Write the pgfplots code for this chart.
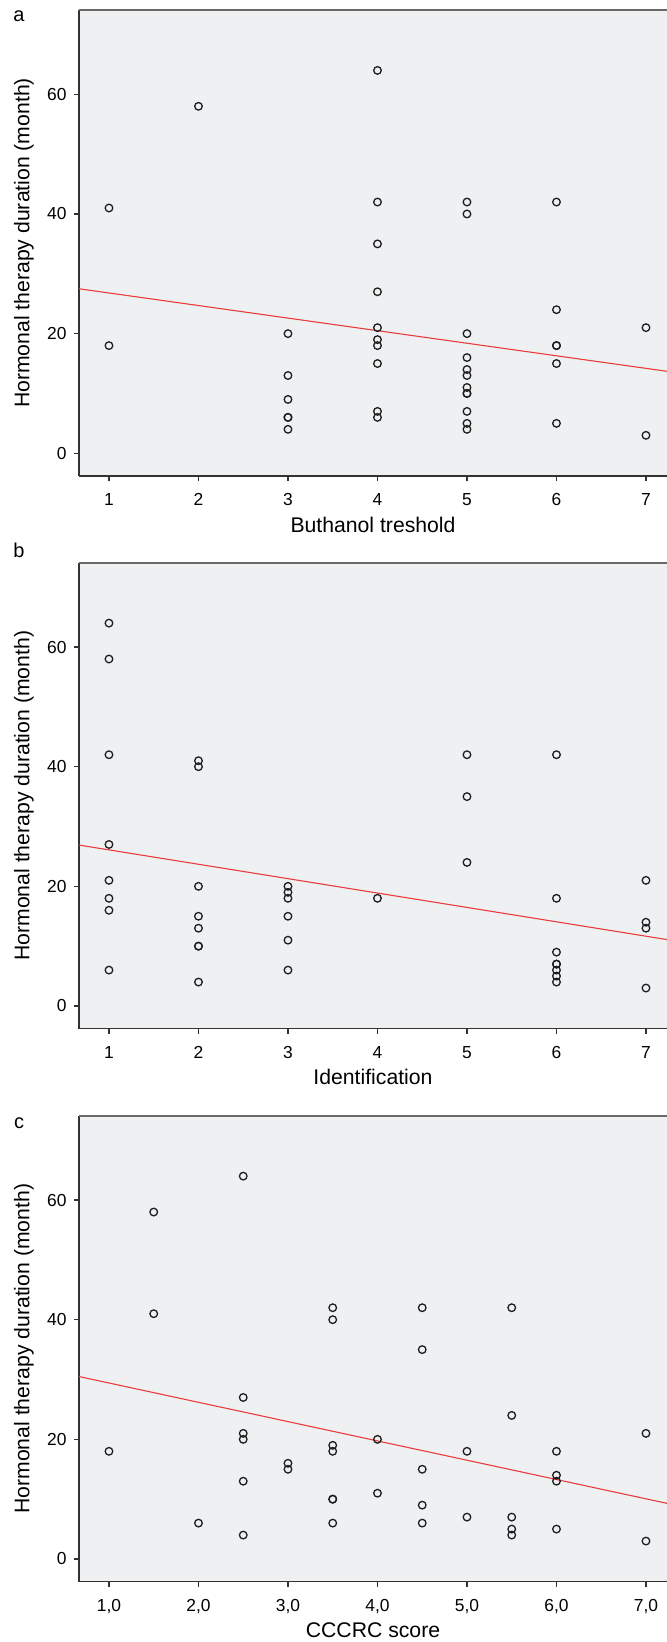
\documentclass[border=0pt]{standalone}
\usepackage{fontspec}
\setmainfont{Liberation Sans}
\usepackage{pgfplots}
\pgfplotsset{compat=1.18}
\definecolor{bgc}{RGB}{239,240,242}
\definecolor{frm}{RGB}{50,50,50}
\definecolor{topfrm}{RGB}{105,105,105}
\definecolor{mk}{RGB}{30,30,30}
\definecolor{reg}{RGB}{235,60,60}

\pgfplotsset{
  panel/.style={
    scale only axis, width=294pt, height=233pt, anchor=north west,
    xmin=0.665, xmax=7.235, ymin=-3.8, ymax=74.1,
    axis x line*=bottom, axis y line*=left,
    axis line style={-, frm, line width=0.7pt},
    axis background/.style={fill=bgc},
    tick align=outside, major tick length=2.5pt,
    tick style={frm, line width=0.6pt},
    xtick={1,2,3,4,5,6,7}, ytick={0,20,40,60}, yticklabels={0,20,40,60},
    tick label style={font=\fontsize{8.7}{10}\selectfont},
    xticklabel style={anchor=north, inner sep=0pt, yshift=-6pt},
    yticklabel style={anchor=east, inner sep=0pt, xshift=-3.5pt},
    every axis x label/.style={at={(axis description cs:0.5,0)}, yshift=-24.25pt, anchor=center, font=\fontsize{10.6}{12}\selectfont},
    every axis y label/.style={at={(axis description cs:0,0.5)}, xshift=-27.5pt, rotate=90, anchor=center, font=\fontsize{10.6}{12}\selectfont},
    ylabel={Hormonal therapy duration (month)},
  },
  pts/.style={only marks, mark=o, mark size=1.9pt, mark options={draw=mk, line width=0.65pt}},
  regl/.style={reg, line width=0.55pt, no marks},
}

\pgfplotstableread{
x y
1 41
1 18
2 58
3 20
3 13
3 9
3 6
3 6
3 4
4 64
4 42
4 35
4 27
4 21
4 19
4 18
4 15
4 7
4 6
5 42
5 40
5 20
5 16
5 14
5 13
5 11
5 10
5 10
5 7
5 5
5 4
6 42
6 24
6 18
6 18
6 15
6 5
7 21
7 3
}\dataA

\pgfplotstableread{
x y
1 64
1 58
1 42
1 27
1 21
1 18
1 16
1 6
2 41
2 40
2 20
2 15
2 13
2 10
2 10
2 4
3 20
3 19
3 18
3 15
3 11
3 6
4 18
5 42
5 35
5 24
6 42
6 18
6 9
6 7
6 7
6 6
6 5
6 4
7 21
7 14
7 13
7 3
}\dataB

\pgfplotstableread{
x y
1.0 18
1.5 58
1.5 41
2.0 6
2.5 64
2.5 27
2.5 21
2.5 20
2.5 13
2.5 4
3.0 16
3.0 15
3.5 42
3.5 40
3.5 19
3.5 18
3.5 10
3.5 10
3.5 6
4.0 20
4.0 11
4.5 42
4.5 35
4.5 15
4.5 9
4.5 6
5.0 18
5.0 7
5.5 42
5.5 24
5.5 7
5.5 5
5.5 4
6.0 18
6.0 14
6.0 13
6.0 5
7.0 21
7.0 3
}\dataC

\begin{document}
\begin{tikzpicture}
\path[use as bounding box] (0,0) rectangle (333.5pt,-821pt);

\node[font=\fontsize{10}{12}\selectfont, anchor=center] at (9.5pt,-8pt) {a};
\node[font=\fontsize{10}{12}\selectfont, anchor=center] at (9.5pt,-275pt) {b};
\node[font=\fontsize{10}{12}\selectfont, anchor=center] at (9.5pt,-561.5pt) {c};

% Panel a
\begin{axis}[panel, at={(39.5pt,-5pt)}, xticklabels={1,2,3,4,5,6,7}, xlabel={Buthanol treshold}]
\draw[topfrm, line width=1pt] (rel axis cs:0,1) -- (rel axis cs:1,1);
\addplot[regl] coordinates {(0.665,27.5) (7.235,13.7)};
\addplot[pts] table[x=x, y=y] {\dataA};
\end{axis}

% Panel b
\begin{axis}[panel, at={(39.5pt,-281.35pt)}, xticklabels={1,2,3,4,5,6,7}, xlabel={Identification}]
\draw[topfrm, line width=1pt] (rel axis cs:0,1) -- (rel axis cs:1,1);
\addplot[regl] coordinates {(0.665,26.9) (7.235,11.1)};
\addplot[pts] table[x=x, y=y] {\dataB};
\end{axis}

% Panel c
\begin{axis}[panel, at={(39.5pt,-557.85pt)}, xticklabels={{1,0},{2,0},{3,0},{4,0},{5,0},{6,0},{7,0}}, xlabel={CCCRC score}]
\draw[topfrm, line width=1pt] (rel axis cs:0,1) -- (rel axis cs:1,1);
\addplot[regl] coordinates {(0.665,30.5) (7.235,9.3)};
\addplot[pts] table[x=x, y=y] {\dataC};
\end{axis}
\end{tikzpicture}
\end{document}
